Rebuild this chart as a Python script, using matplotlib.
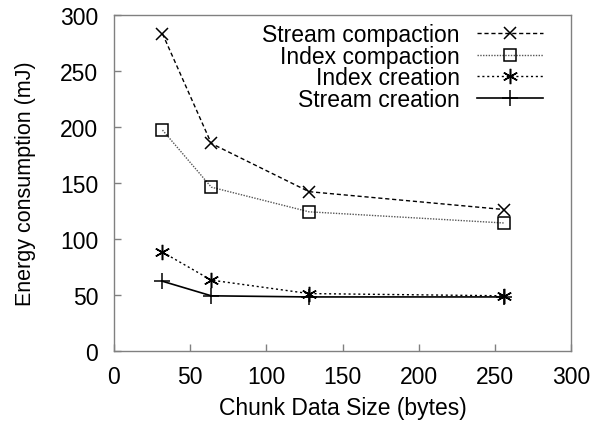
import matplotlib
matplotlib.use("Agg")
import matplotlib.pyplot as plt

plt.rcParams['font.family'] = ['Liberation Sans', 'DejaVu Sans']

chunk_sizes = [32, 64, 128, 256]
stream_compaction = [283, 185, 142, 126]
index_compaction = [197, 146, 124, 114]
index_creation = [88, 63, 51, 49]
stream_creation = [62, 49, 48, 48]

labels = ["Stream compaction", "Index compaction", "Index creation", "Stream creation"]
x_ticks = [0, 50, 100, 150, 200, 250, 300]
y_ticks = [0, 50, 100, 150, 200, 250, 300]

fig = plt.figure(figsize=(5.95, 4.31), dpi=100)
ax = fig.add_axes([0.191, 0.184, 0.7695, 0.7796])

fs = 16.5
ax.plot(chunk_sizes, stream_compaction, color='black', lw=1.0, linestyle=(0, (3, 2)),
        marker='x', markersize=9, markeredgewidth=1.1, label=labels[0])
ax.plot(chunk_sizes, index_compaction, color='#555555', lw=1.0, linestyle=(0, (1, 1)),
        marker='s', markersize=9, markerfacecolor='none', markeredgecolor='black',
        markeredgewidth=1.1, label=labels[1])
ax.plot(chunk_sizes, index_creation, color='black', lw=1.0, linestyle=(0, (1.5, 2)),
        marker=(6, 2, 0), markersize=11, markeredgewidth=1.1, label=labels[2])
ax.plot(chunk_sizes, stream_creation, color='black', lw=1.2, linestyle='-',
        marker='+', markersize=11, markeredgewidth=1.1, label=labels[3])

ax.set_xlim(0, 300)
ax.set_ylim(0, 300)
ax.set_xticks(x_ticks)
ax.set_yticks(y_ticks)
ax.tick_params(axis='x', direction='in', length=5, width=1, colors='#808080',
               labelcolor='black', labelsize=fs, pad=10)
ax.tick_params(axis='y', direction='in', length=5, width=1, colors='#808080',
               labelcolor='black', labelsize=fs, pad=11)
for s in ax.spines.values():
    s.set_color('#808080')
    s.set_linewidth(1.0)

ax.set_xlabel("Chunk Data Size (bytes)", fontsize=fs, labelpad=6)
ax.set_ylabel("Energy consumption (mJ)", fontsize=15.5, labelpad=17.5)

leg = ax.legend(loc='upper right', frameon=False, markerfirst=False, fontsize=fs,
                handlelength=2.9, handletextpad=0.74, labelspacing=-0.06,
                borderaxespad=0, borderpad=0, bbox_to_anchor=(0.938, 0.975))

fig.savefig("out.png", dpi=100)
